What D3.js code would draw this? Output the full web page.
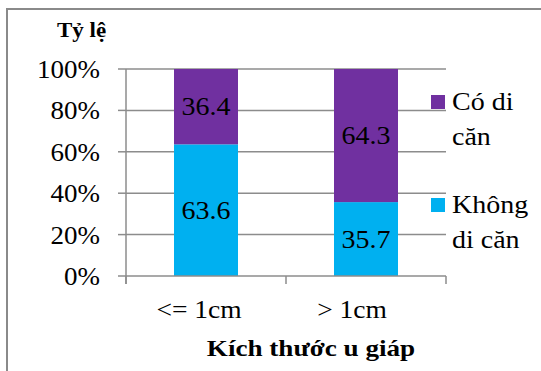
<!DOCTYPE html>
<html>
<head>
<meta charset="utf-8">
<script src="https://cdn.jsdelivr.net/npm/d3@7"></script>
</head>
<body style="margin:0">
<svg id="chart" width="541" height="371" font-family="Liberation Serif"></svg>
<script>
// Tumour size groups and the share of each outcome (%)
const categories = ["<= 1cm", "> 1cm"];
const seriesNames = ["Không di căn", "Có di căn"];
const khongDiCan = [63.6, 35.7];
const coDiCan = [36.4, 64.3];
const yTicks = [0, 20, 40, 60, 80, 100];
const legendLines = [["Có di", "căn"], ["Không", "di căn"]];
const colors = { "Không di căn": "#00B0F0", "Có di căn": "#7030A0" };

const svg = d3.select("#chart");

// text helper: horizontally stretched glyphs anchored at (x, y)
function label(x, y, str, opts = {}) {
  const t = svg.append("g").attr("transform", `translate(${x},${y}) scale(${opts.sx || 1.1},1)`)
    .append("text")
    .attr("font-family", "Liberation Serif")
    .attr("font-size", opts.size || 25)
    .text(str);
  if (opts.anchor) t.attr("text-anchor", opts.anchor);
  if (opts.weight) t.attr("font-weight", opts.weight);
  return t;
}

// outer chart frame
svg.append("rect")
  .attr("x", 7).attr("y", 9).attr("width", 560).attr("height", 400)
  .attr("fill", "none").attr("stroke", "#8a8a8a").attr("stroke-width", 2);

const plot = { left: 126, right: 446, top: 69, bottom: 276 };

const xOuter = d3.scaleBand().domain(categories).range([plot.left, plot.right]);
const y = d3.scaleLinear().domain([0, 100]).range([plot.bottom, plot.top]);

// gridlines
svg.append("g").selectAll("line").data(yTicks.filter(d => d > 0)).join("line")
  .attr("x1", plot.left).attr("x2", plot.right)
  .attr("y1", d => y(d)).attr("y2", d => y(d))
  .attr("stroke", "#8c8c8c").attr("stroke-width", 1.5);

// stacked data
const rows = categories.map((c, i) => ({ cat: c, "Không di căn": khongDiCan[i], "Có di căn": coDiCan[i] }));
const stacked = d3.stack().keys(seriesNames)(rows);

const bw = 64;
stacked.forEach(layer => {
  svg.append("g").selectAll("rect").data(layer).join("rect")
    .attr("x", d => xOuter(d.data.cat) + xOuter.bandwidth() / 2 - bw / 2)
    .attr("width", bw)
    .attr("y", d => y(d[1]))
    .attr("height", d => y(d[0]) - y(d[1]))
    .attr("fill", colors[layer.key]);
});
stacked.forEach(layer => {
  layer.forEach(d => {
    const cx = xOuter(d.data.cat) + xOuter.bandwidth() / 2;
    const cy = (y(d[0]) + y(d[1])) / 2;
    label(cx, cy + 8.5, d3.format(".1f")(d.data[layer.key]), { anchor: "middle", sx: 1.12 });
  });
});

// y axis line and ticks
const yAxis = svg.append("g");
yAxis.append("line").attr("x1", plot.left).attr("x2", plot.left)
  .attr("y1", plot.top).attr("y2", plot.bottom + 8)
  .attr("stroke", "#8c8c8c").attr("stroke-width", 1.5);
yAxis.selectAll(".tk").data(yTicks).join("line")
  .attr("x1", plot.left - 8).attr("x2", plot.left)
  .attr("y1", d => y(d)).attr("y2", d => y(d))
  .attr("stroke", "#8c8c8c").attr("stroke-width", 1.5);
yTicks.forEach(t => label(100, y(t) + 9, t + "%", { anchor: "end", sx: 1.08 }));

// x axis line and ticks at band edges
const xAxis = svg.append("g");
xAxis.append("line").attr("x1", plot.left).attr("x2", plot.right)
  .attr("y1", plot.bottom).attr("y2", plot.bottom)
  .attr("stroke", "#8c8c8c").attr("stroke-width", 1.5);
const edges = categories.map(c => xOuter(c)).concat([plot.right]);
xAxis.selectAll(".tk").data(edges).join("line")
  .attr("x1", d => d).attr("x2", d => d)
  .attr("y1", plot.bottom).attr("y2", plot.bottom + 8)
  .attr("stroke", "#8c8c8c").attr("stroke-width", 1.5);
const labelShift = [-7, -14];
categories.forEach((c, i) =>
  label(xOuter(c) + xOuter.bandwidth() / 2 + labelShift[i], 318, c, { anchor: "middle", sx: 1.1 }));

// axis titles
label(57, 36.5, "Tỷ lệ", { size: 20, weight: "bold", sx: 1.15 });
label(311, 356, "Kích thước u giáp", { size: 23, weight: "bold", anchor: "middle", sx: 1.18 });

// legend (top entry is the upper stack segment)
const legendKeys = ["Có di căn", "Không di căn"];
const legendY = [110, 213];
legendKeys.forEach((k, i) => {
  svg.append("rect").attr("x", 431).attr("y", legendY[i] - 15).attr("width", 14).attr("height", 14)
    .attr("fill", colors[k]);
  legendLines[i].forEach((ln, j) => label(452, legendY[i] + j * 34.5, ln, { sx: 1.12 }));
});
</script>
</body>
</html>
